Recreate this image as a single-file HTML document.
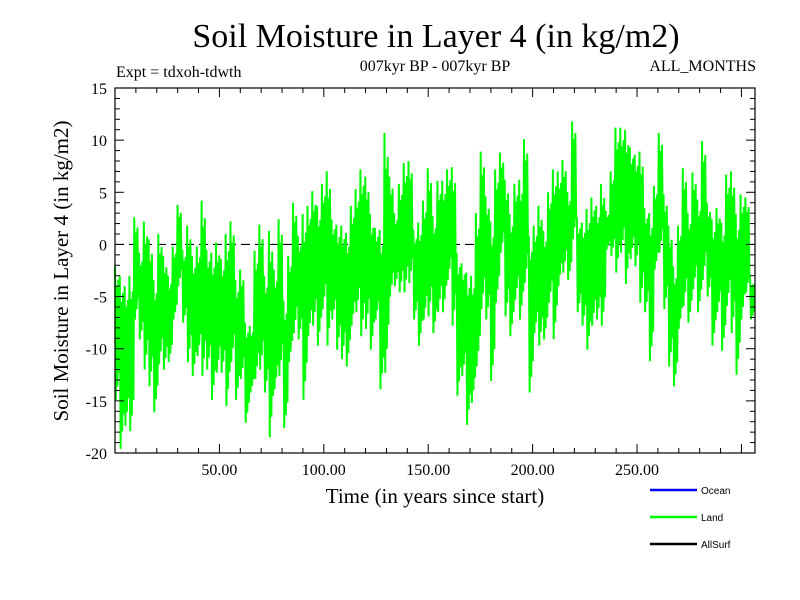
<!DOCTYPE html>
<html><head><meta charset="utf-8"><style>
body{margin:0;background:#fff;}
svg{display:block;font-family:"Liberation Serif",serif;}
</style></head><body>
<svg id="chart" width="800" height="600" viewBox="0 0 800 600">
<text x="436" y="47" font-size="34" text-anchor="middle">Soil Moisture in Layer 4 (in kg/m2)</text>
<text x="116" y="77" font-size="16">Expt = tdxoh-tdwth</text>
<text x="435" y="71" font-size="16" text-anchor="middle">007kyr BP - 007kyr BP</text>
<text x="756" y="71" font-size="16" text-anchor="end">ALL_MONTHS</text>
<text transform="translate(68,271) rotate(-90)" font-size="21" text-anchor="middle">Soil Moisture in Layer 4 (in kg/m2)</text>
<text x="435" y="503" font-size="21" text-anchor="middle">Time (in years since start)</text>
<g id="plot"></g>
<g font-family="Liberation Sans, sans-serif" font-size="10">
<line x1="650" y1="490" x2="697" y2="490" stroke="#0000ff" stroke-width="2.5"/>
<text x="701" y="494">Ocean</text>
<line x1="650" y1="517" x2="697" y2="517" stroke="#00ff00" stroke-width="2.5"/>
<text x="701" y="521">Land</text>
<line x1="650" y1="544" x2="697" y2="544" stroke="#000" stroke-width="2.5"/>
<text x="701" y="548">AllSurf</text>
</g>
</svg>
<script>
const hiValues=[-2.1,-3.0,-4.0,-3.0,2.6,-0.8,2.2,0.5,-3.4,1.0,-1.1,-3.0,-0.2,3.8,-0.5,1.8,-1.1,-0.2,4.2,-0.5,-0.8,0.2,-1.4,1.0,2.2,-3.4,-2.4,-7.5,-7.8,-0.6,1.9,-3.0,1.3,-2.4,2.4,-5.4,-1.1,4.0,0.8,2.9,3.7,5.1,3.7,5.8,7.0,2.4,1.9,1.8,1.1,3.7,5.3,7.2,6.5,2.9,1.6,1.4,10.7,6.5,3.0,5.8,7.8,8.0,1.4,2.1,4.2,7.3,2.7,6.1,
6.1,7.2,7.4,-0.8,-1.8,-2.7,-3.0,3.0,8.9,4.6,2.2,7.2,8.8,6.2,2.9,5.8,6.2,10.1,0.8,1.8,3.7,1.3,5.0,7.2,7.0,8.1,5.0,11.8,2.4,2.1,3.4,4.5,3.7,5.8,3.2,7.0,11.2,11.2,11.0,9.3,8.6,8.9,3.5,3.0,5.6,10.7,4.8,1.8,-2.1,1.8,7.3,3.0,6.9,4.3,9.9,4.0,2.4,3.5,2.1,6.7,7.0,2.9,4.8,4.5,-3.4];
const loValues=[-14.9,-19.6,-17.4,-17.9,-7.2,-9.1,-12.0,-13.6,-16.1,-11.5,-12.0,-11.3,-7.2,-4.0,-7.5,-11.3,-12.6,-10.7,-12.6,-12.0,-14.9,-12.3,-12.3,-15.5,-11.3,-14.9,-12.9,-17.1,-14.2,-12.9,-12.0,-14.2,-18.5,-13.9,-12.6,-17.6,-11.3,-8.5,-9.1,-14.9,-8.8,-7.8,-9.7,-6.2,-9.7,-7.2,-10.1,-11.0,-11.7,-7.8,-6.5,-8.8,-8.1,-10.1,-7.2,-13.9,-12.3,-5.0,-4.0,-4.6,-4.6,-3.7,-7.2,-9.7,-7.2,-6.9,-8.5,-6.5,
-6.5,-3.4,-7.8,-14.5,-12.6,-17.3,-15.2,-11.7,-6.2,-7.2,-13.1,-5.6,-0.8,-6.9,-8.8,-5.3,-7.2,-3.7,-14.2,-8.5,-9.7,-9.1,-5.6,-9.1,-4.0,-2.7,-3.4,0.5,-6.5,-7.8,-10.1,-7.8,-7.2,-7.8,-0.5,-1.1,-2.7,-0.8,-3.8,-1.4,-2.1,-5.6,-6.5,-11.2,-2.4,-0.8,-6.2,-11.7,-13.6,-8.1,-5.9,-7.5,-4.3,-6.5,-3.4,-5.0,-9.7,-6.5,-10.2,-5.9,-8.5,-12.5,-7.2,-4.6,-7.2];
const xTickLabels=["50.00","100.00","150.00","200.00","250.00"];
const xTickValues=[50,100,150,200,250];
const yTickValues=[-20,-15,-10,-5,0,5,10,15];
const xMin=0,xMax=306.5,yMin=-20,yMax=15;
const L=115,R=755,T=88,B=453;
const sx=v=>L+(v-xMin)/(xMax-xMin)*(R-L);
const sy=v=>B-(v-yMin)/(yMax-yMin)*(B-T);
const NS="http://www.w3.org/2000/svg";
const plot=document.getElementById('plot');
function mk(tag,attrs){const e=document.createElementNS(NS,tag);for(const k in attrs)e.setAttribute(k,attrs[k]);plot.appendChild(e);return e;}
let z=mk('line',{x1:L,x2:R,y1:sy(0),y2:sy(0),stroke:'#000','stroke-width':1.2,'stroke-dasharray':'9,5'});


const n=hiValues.length, step=(xMax-xMin)/n;
const sub=[0,1,0.3,0.8,0.2,0.6];
let pts=[];
for(let i=0;i<n;i++){
  const x0=xMin+i*step;
  for(let k=0;k<6;k++){
    const xv=x0+step*k/6;
    const f=sub[k];
    const v=k%2===0?hiValues[i]-(hiValues[i]-loValues[i])*f*0.5:loValues[i]+(hiValues[i]-loValues[i])*(1-f)*0.5;
    pts.push(sx(xv).toFixed(2)+','+sy(v).toFixed(2));
  }
}
let pl=mk('polyline',{points:pts.join(' '),fill:'none',stroke:'#00ff00','stroke-width':2,'stroke-linejoin':'miter'});


let fr=mk('rect',{x:L,y:T,width:R-L,height:B-T,fill:'none',stroke:'#000','stroke-width':1.2});


for(let v=yMin;v<=yMax;v++){
  const major=v%5===0, len=major?9:5, y=sy(v);
  let t1=mk('line',{x1:L,x2:L+len,y1:y,y2:y,stroke:'#000','stroke-width':1});
  
  
  let t2=mk('line',{x1:R,x2:R-len,y1:y,y2:y,stroke:'#000','stroke-width':1});
  
  
}
yTickValues.forEach(v=>{
  let t=mk('text',{x:L-8,y:sy(v)+6,'font-size':16,'text-anchor':'end'});
  t.textContent=String(v);
  
  
});
for(let v=10;v<xMax;v+=10){
  const major=v%50===0,len=major?9:5,x=sx(v);
  let t1=mk('line',{x1:x,x2:x,y1:B,y2:B-len,stroke:'#000','stroke-width':1});
  
  
  let t2=mk('line',{x1:x,x2:x,y1:T,y2:T+len,stroke:'#000','stroke-width':1});
  
  
}
xTickValues.forEach((v,i)=>{
  let t=mk('text',{x:sx(v),y:B+22,'font-size':16,'text-anchor':'middle'});
  t.textContent=xTickLabels[i];
  
  
});
</script>
</body></html>
